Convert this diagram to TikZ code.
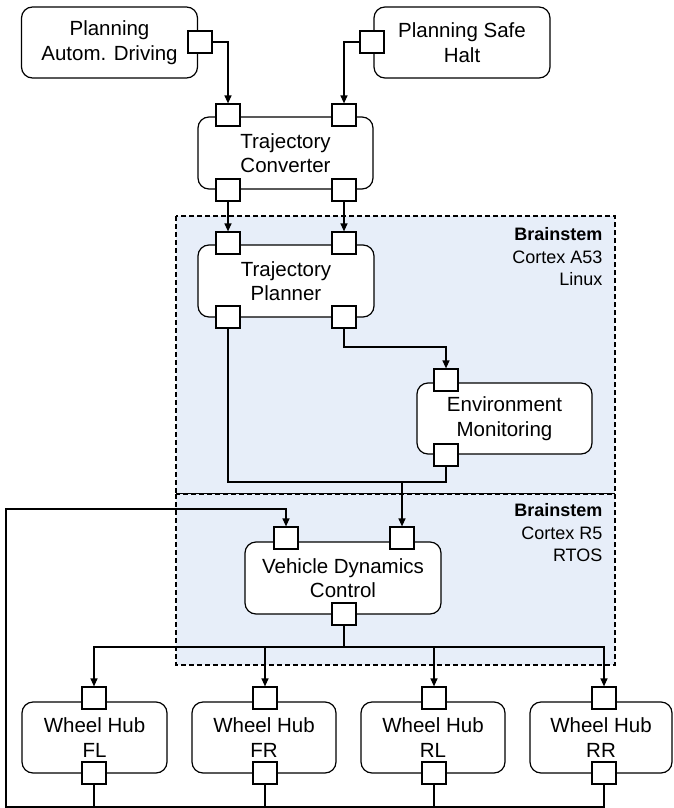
\documentclass[tikz,border=0pt]{standalone}
\usepackage{fontspec}
\setmainfont{Liberation Sans}
\usetikzlibrary{arrows.meta}
\definecolor{contfill}{RGB}{231,238,249}
\begin{document}
\begin{tikzpicture}[x=1pt,y=-1pt,
  line width=1.2pt,
  blk/.style={draw, rounded corners=11pt, fill=white, align=center, inner sep=0pt,
    font=\fontsize{20.5}{24.5}\selectfont},
  port/.style={draw, rectangle, fill=white, minimum width=24pt, minimum height=22pt, inner sep=0pt},
  cont/.style={draw, dash pattern=on 5pt off 3pt, fill=contfill, line width=1.3pt},
  lbl/.style={align=right, anchor=north east, inner sep=0pt, font=\fontsize{18}{22.5}\selectfont},
  arr/.style={-{Triangle[length=8pt,width=7pt]}}
]
\useasboundingbox (0,0) rectangle (673,808);

% containers
\path[cont] (176,216) rectangle (615,494);
\path[cont] (176,494) rectangle (615,665);
\node[lbl] (l1) at (603,227) {\textbf{Brainstem}\\Cortex A53\\Linux};
\node[lbl] (l2) at (603,503) {\textbf{Brainstem}\\Cortex R5\\RTOS};

% boxes
\node[blk, minimum width=176pt, minimum height=71pt] (pad) at (109.5,42.5) {Planning\\Autom. Driving};
\node[blk, minimum width=176pt, minimum height=71pt] (psh) at (462,42.5) {Planning Safe\\Halt};
\node[blk, minimum width=175pt, minimum height=72pt] (tc) at (285.5,153) {Trajectory\\Converter};
\node[blk, minimum width=176pt, minimum height=72pt] (tp) at (286,281) {Trajectory\\Planner};
\node[blk, minimum width=175pt, minimum height=71pt] (em) at (504.5,418.5) {Environment\\Monitoring};
\node[blk, minimum width=196pt, minimum height=72pt] (vdc) at (343,578) {Vehicle Dynamics\\Control};
\node[blk, minimum width=145pt, minimum height=71pt] (fl) at (94.5,737.5) {Wheel Hub\\FL};
\node[blk, minimum width=144pt, minimum height=71pt] (fr) at (264,737.5) {Wheel Hub\\FR};
\node[blk, minimum width=144pt, minimum height=71pt] (rl) at (433,737.5) {Wheel Hub\\RL};
\node[blk, minimum width=142pt, minimum height=71pt] (rr) at (601,737.5) {Wheel Hub\\RR};

% ports
\node[port] (padp) at (200,42) {};
\node[port] (pshp) at (372,42) {};
\node[port] (tct1) at (228,115) {};
\node[port] (tct2) at (344,115) {};
\node[port] (tcb1) at (228,190) {};
\node[port] (tcb2) at (344,190) {};
\node[port] (tpt1) at (228,243) {};
\node[port] (tpt2) at (344,243) {};
\node[port] (tpb1) at (228,317) {};
\node[port] (tpb2) at (344,317) {};
\node[port] (emt) at (446,380) {};
\node[port] (emb) at (446,455) {};
\node[port] (vdct1) at (286,538) {};
\node[port] (vdct2) at (402,538) {};
\node[port] (vdcb) at (344,614) {};
\node[port] (flt) at (94,698) {};
\node[port] (frt) at (265,698) {};
\node[port] (rlt) at (434,698) {};
\node[port] (rrt) at (604,698) {};
\node[port] (flb) at (94,773) {};
\node[port] (frb) at (265,773) {};
\node[port] (rlb) at (434,773) {};
\node[port] (rrb) at (604,773) {};

% helper coordinates
\coordinate (m) at (vdct2.north |- 0,482);
\coordinate (bus) at (vdcb.south |- 0,647);
\coordinate (fbl) at (6,807);
\coordinate (fbt) at (6,509);
\coordinate (envj) at (tpb2.south |- 0,347);

% connectors
\draw[arr] (padp.east) -| (tct1.north);
\draw[arr] (pshp.west) -| (tct2.north);
\draw[arr] (tcb1.south) -- (tpt1.north);
\draw[arr] (tcb2.south) -- (tpt2.north);
\draw[arr] (tpb2.south) -- (envj) -| (emt.north);
\draw (tpb1.south) |- (m) -| (emb.south);
\draw[arr] (m) -- (vdct2.north);
\draw (vdcb.south) -- (bus);
\draw[arr] (bus) -| (flt.north);
\draw[arr] (bus) -| (frt.north);
\draw[arr] (bus) -| (rlt.north);
\draw[arr] (bus) -| (rrt.north);
\draw[arr] (rrb.south) |- (fbl) -- (fbt) -| (vdct1.north);
\draw (flb.south) -- (flb.south |- fbl);
\draw (frb.south) -- (frb.south |- fbl);
\draw (rlb.south) -- (rlb.south |- fbl);
\end{tikzpicture}
\end{document}
